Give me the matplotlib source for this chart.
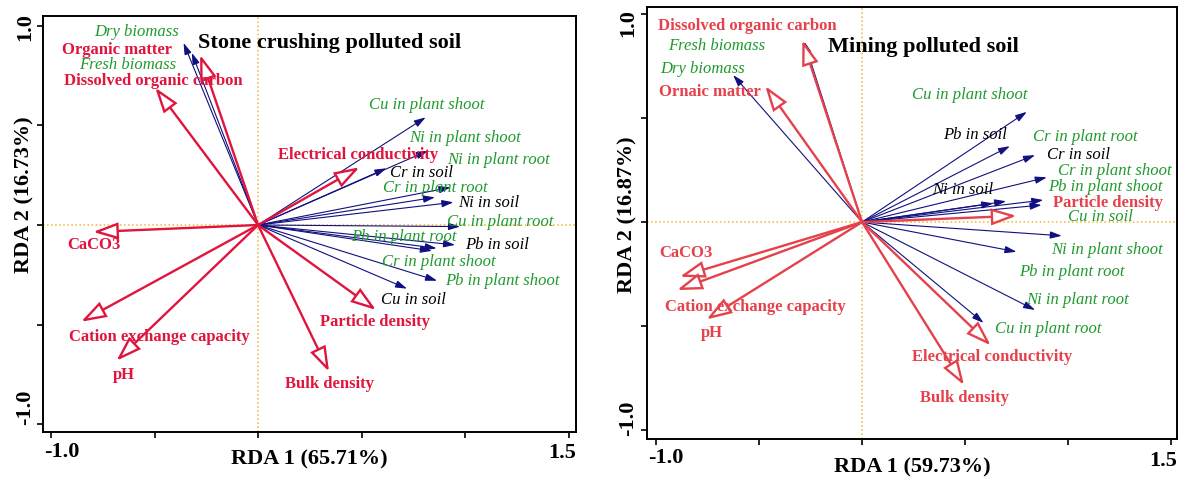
import matplotlib
matplotlib.use('Agg')
import matplotlib.pyplot as plt
from matplotlib.patches import FancyArrowPatch

plt.rcParams['font.family'] = ['Liberation Serif', 'DejaVu Serif']

# ---------------- data: stone crushing polluted soil ----------------
sc_species = ['Dry biomass', 'Fresh biomass', 'Cu in plant shoot', 'Ni in plant shoot',
              'Ni in plant root', 'Cr in soil', 'Cr in plant root', 'Ni in soil',
              'Cu in plant root', 'Pb in plant root', 'Pb in soil', 'Cr in plant shoot',
              'Pb in plant shoot', 'Cu in soil']
sc_sp_x = [-0.36, -0.32, 0.81, 0.82, 0.93, 0.62, 0.855, 0.944, 0.976, 0.863, 0.952, 0.84, 0.865, 0.72]
sc_sp_y = [0.915, 0.865, 0.541, 0.373, 0.189, 0.285, 0.139, 0.114, -0.008, -0.117, -0.10, -0.13, -0.28, -0.32]
sc_black = ['Cr in soil', 'Ni in soil', 'Pb in soil', 'Cu in soil']

sc_env = ['Organic matter', 'Dissolved organic carbon', 'Electrical conductivity', 'CaCO3',
          'Cation exchange capacity', 'pH', 'Bulk density', 'Particle density']
sc_env_x = [-0.28, -0.497, 0.49, -0.797, -0.855, -0.684, 0.343, 0.57]
sc_env_y = [0.855, 0.69, 0.29, -0.035, -0.486, -0.682, -0.737, -0.427]

# ---------------- data: mining polluted soil ----------------
mp_species = ['Fresh biomass', 'Dry biomass', 'Cu in plant shoot', 'Cr in plant root',
              'Cr in soil', 'Cr in plant shoot', 'Pb in plant shoot', 'Cu in soil',
              'Ni in soil', 'Pb in soil', 'Ni in plant shoot', 'Pb in plant root',
              'Ni in plant root', 'Cu in plant root']
mp_sp_x = [-0.28, -0.626, 0.80, 0.718, 0.84, 0.897, 0.88, 0.872, 0.637, 0.70, 0.97, 0.75, 0.84, 0.59]
mp_sp_y = [0.867, 0.707, 0.53, 0.365, 0.322, 0.215, 0.106, 0.082, 0.09, 0.10, -0.066, -0.143, -0.423, -0.485]
mp_black = ['Cr in soil', 'Ni in soil', 'Pb in soil']

mp_env = ['Dissolved organic carbon', 'Ornaic matter', 'Particle density', 'Electrical conductivity',
          'Bulk density', 'CaCO3', 'Cation exchange capacity', 'pH']
mp_env_x = [-0.29, -0.47, 0.75, 0.625, 0.495, -0.885, -0.898, -0.755]
mp_env_y = [0.875, 0.654, 0.03, -0.593, -0.784, -0.263, -0.327, -0.468]

# ---------------- label placement (layout) ----------------
sc_lab = {'Dry biomass': (-0.585, 0.970), 'Fresh biomass': (-0.628, 0.804),
          'Cu in plant shoot': (0.816, 0.603), 'Ni in plant shoot': (1.0, 0.437),
          'Ni in plant root': (1.164, 0.327), 'Cr in soil': (0.792, 0.262),
          'Cr in plant root': (0.855, 0.186), 'Ni in soil': (1.116, 0.111),
          'Cu in plant root': (1.169, 0.015), 'Pb in plant root': (0.705, -0.06),
          'Pb in soil': (1.155, -0.10), 'Cr in plant shoot': (0.874, -0.186),
          'Pb in plant shoot': (1.179, -0.281), 'Cu in soil': (0.749, -0.377),
          'Organic matter': (-0.681, 0.879), 'Dissolved organic carbon': (-0.507, 0.724),
          'Electrical conductivity': (0.483, 0.352), 'CaCO3': (-0.792, -0.10),
          'Cation exchange capacity': (-0.478, -0.563), 'pH': (-0.647, -0.754),
          'Bulk density': (0.343, -0.799), 'Particle density': (0.565, -0.487)}

mp_lab = {'Fresh biomass': (-0.704, 0.846), 'Dry biomass': (-0.772, 0.736),
          'Cu in plant shoot': (0.524, 0.611), 'Cr in plant root': (1.083, 0.409),
          'Cr in soil': (1.049, 0.322), 'Cr in plant shoot': (1.228, 0.245),
          'Pb in plant shoot': (1.180, 0.168), 'Cu in soil': (1.155, 0.024),
          'Ni in soil': (0.490, 0.154), 'Pb in soil': (0.549, 0.418),
          'Ni in plant shoot': (1.189, -0.135), 'Pb in plant root': (1.019, -0.240),
          'Ni in plant root': (1.044, -0.375), 'Cu in plant root': (0.903, -0.514),
          'Dissolved organic carbon': (-0.558, 0.942), 'Ornaic matter': (-0.738, 0.625),
          'Particle density': (1.194, 0.091), 'Electrical conductivity': (0.631, -0.65),
          'Bulk density': (0.495, -0.846), 'CaCO3': (-0.854, -0.149),
          'Cation exchange capacity': (-0.519, -0.409), 'pH': (-0.728, -0.534)}

GREEN = '#1f9a2e'
NAVY = '#101080'
DOT = '#f2b52f'


def arrow(ax, x, y, ec, fc, lw, hl, hw, z):
    a = FancyArrowPatch((0, 0), (x, y),
                        arrowstyle='-|>,head_length=%s,head_width=%s' % (hl, hw),
                        mutation_scale=10, ec=ec, fc=fc, lw=lw,
                        shrinkA=0, shrinkB=0, zorder=z, joinstyle='miter')
    ax.add_patch(a)


def panel(ax, sp, spx, spy, black, env, envx, envy, lab, red, title, title_xy,
          xlim, ylim, xlab, ylab, pos):
    ax.set_xlim(xlim)
    ax.set_ylim(ylim)
    ax.axhline(0, color=DOT, ls=':', lw=1.1, zorder=1)
    ax.axvline(0, color=DOT, ls=':', lw=1.1, zorder=1)
    for i in range(len(sp)):
        arrow(ax, spx[i], spy[i], NAVY, NAVY, 0.8, 0.7, 0.22, 3)
        c = 'black' if sp[i] in black else GREEN
        lx, ly = lab[sp[i]]
        ax.text(lx, ly, sp[i], color=c, style='italic', fontsize=12,
                ha='center', va='center', zorder=5)
    for i in range(len(env)):
        arrow(ax, envx[i], envy[i], red, 'white', 1.7, 1.5, 0.5, 4)
        lx, ly = lab[env[i]]
        ax.text(lx, ly, env[i], color=red, fontweight='bold', fontsize=12,
                ha='center', va='center', zorder=5)
    ax.text(title_xy[0], title_xy[1], title, fontweight='bold', fontsize=16,
            ha='left', va='center', zorder=6)

    ax.set_xticks([-1.0, -0.5, 0, 0.5, 1.0, 1.5])
    ax.set_yticks([-1.0, -0.5, 0, 0.5, 1.0])
    ax.set_xticklabels([])
    ax.set_yticklabels([])
    ax.tick_params(direction='out', length=4, width=1.2)
    for s in ax.spines.values():
        s.set_linewidth(1.4)

    # R style axis annotations
    kw = dict(transform=ax.transAxes, fontweight='bold', fontsize=16,
              ha='center', va='center', clip_on=False)
    ax.text(pos['xt0'][0], pos['xt0'][1], '-1.0', **kw)
    ax.text(pos['xt1'][0], pos['xt1'][1], '1.5', **kw)
    ax.text(0.5, pos['xl'], xlab, **kw)
    ax.text(pos['yx'], pos['yt1'], '1.0', rotation=90, **kw)
    ax.text(pos['yx'], pos['yt0'], '-1.0', rotation=90, **kw)
    ax.text(pos['yx'], pos['yl'], ylab, rotation=90, **kw)


fig = plt.figure(figsize=(11.84, 4.84), dpi=100)
ax1 = fig.add_axes([43 / 1184, 52 / 484, 533 / 1184, 416 / 484])
ax2 = fig.add_axes([647 / 1184, 45 / 484, 530 / 1184, 432 / 484])

panel(ax1, sc_species, sc_sp_x, sc_sp_y, sc_black, sc_env, sc_env_x, sc_env_y, sc_lab,
      '#e0153d', 'Stone crushing polluted soil', (-0.29, 0.915),
      (-1.039, 1.536), (-1.040, 1.050), 'RDA 1 (65.71%)', 'RDA 2 (16.73%)',
      {'xt0': (0.036, -0.048), 'xt1': (0.974, -0.05), 'xl': -0.067,
       'yx': -0.034, 'yt1': 0.974, 'yt0': 0.06, 'yl': 0.57})

panel(ax2, mp_species, mp_sp_x, mp_sp_y, mp_black, mp_env, mp_env_x, mp_env_y, mp_lab,
      '#e5414b', 'Mining polluted soil', (-0.165, 0.841),
      (-1.044, 1.529), (-1.043, 1.034), 'RDA 1 (59.73%)', 'RDA 2 (16.87%)',
      {'xt0': (0.036, -0.045), 'xt1': (0.974, -0.05), 'xl': -0.065,
       'yx': -0.036, 'yt1': 0.963, 'yt0': 0.049, 'yl': 0.519})

fig.savefig('out.png', dpi=100)
